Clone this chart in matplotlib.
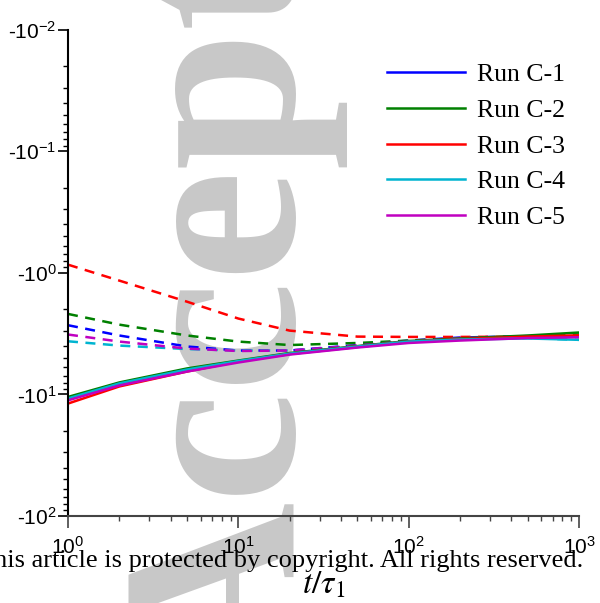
import math
import matplotlib
matplotlib.use('Agg')
import matplotlib.pyplot as plt
from matplotlib.ticker import FuncFormatter, LogLocator

plt.rcParams['font.family'] = ['Liberation Sans', 'DejaVu Sans']
plt.rcParams['axes.unicode_minus'] = False

# time t/tau_1
t = [1, 2, 5, 10, 20, 50, 100, 200, 500, 1000]

# solid curves
c1_solid = [-10.9, -8.30, -6.37, -5.37, -4.66, -4.08, -3.71, -3.54, -3.41, -3.33]
c2_solid = [-10.5, -7.98, -6.12, -5.27, -4.57, -4.01, -3.64, -3.47, -3.28, -3.10]
c3_solid = [-11.9, -8.61, -6.49, -5.37, -4.62, -4.04, -3.68, -3.51, -3.35, -3.27]
c4_solid = [-10.8, -8.13, -6.25, -5.32, -4.62, -4.04, -3.68, -3.54, -3.47, -3.56]
c5_solid = [-11.2, -8.45, -6.49, -5.47, -4.71, -4.12, -3.78, -3.61, -3.44, -3.39]

# dashed curves
c1_dash = [-2.70, -3.28, -4.04, -4.36, -4.36, -3.93, -3.61, -3.41, -3.32, -3.32]
c2_dash = [-2.18, -2.67, -3.28, -3.68, -3.93, -3.78, -3.61, -3.47, -3.35, -3.22]
c3_dash = [-0.858, -1.16, -1.73, -2.38, -2.99, -3.35, -3.37, -3.37, -3.35, -3.32]
c4_dash = [-3.66, -3.97, -4.24, -4.36, -4.36, -4.04, -3.68, -3.47, -3.44, -3.56]
c5_dash = [-3.22, -3.68, -4.20, -4.40, -4.36, -3.97, -3.64, -3.44, -3.35, -3.35]

labels = ['Run C-1', 'Run C-2', 'Run C-3', 'Run C-4', 'Run C-5']
colors = ['#0000ff', '#008000', '#ff0000', '#00b4d0', '#c000c0']
solids = [c1_solid, c2_solid, c3_solid, c4_solid, c5_solid]
dashes = [c1_dash, c2_dash, c3_dash, c4_dash, c5_dash]

fig = plt.figure(figsize=(6, 6.03), dpi=100)
ax = fig.add_axes([68/600, 1-516/603, (579-68)/600, (516-29.5)/603])
ax.patch.set_visible(False)

# watermark behind the axes
fig.text(292/600, 1-680/603, 'Accepted', rotation=90, rotation_mode='anchor',
         ha='left', va='baseline', fontsize=180, family='Liberation Serif',
         weight='bold', color='#c8c8c8', zorder=-5)

handles = []
for ys, c in zip(dashes, colors):
    ax.plot(t, [-v for v in ys], color=c, lw=1.8, dashes=(4, 3))
for ys, c, lab in zip(solids, colors, labels):
    h, = ax.plot(t, [-v for v in ys], color=c, lw=1.8, label=lab)
    handles.append(h)

ax.set_xscale('log')
ax.set_yscale('log')
ax.set_xlim(1, 1000)
ax.set_ylim(100, 0.01)

ax.yaxis.set_major_formatter(FuncFormatter(lambda v, p: r'-$\mathdefault{10^{%d}}$' % round(math.log10(v))))
ax.yaxis.set_minor_locator(LogLocator(subs=range(2, 10), numticks=20))

for s in ['top', 'right']:
    ax.spines[s].set_visible(False)
ax.spines['left'].set_linewidth(1.5)
ax.spines['bottom'].set_linewidth(1.5)
ax.spines['bottom'].set_color('#444444')

ax.tick_params(axis='y', which='major', length=7.2, width=1.2, labelsize=15, pad=1)
ax.tick_params(axis='y', which='minor', length=3.6, width=1.0)
ax.tick_params(axis='x', which='major', length=8.6, width=1.2, labelsize=15, pad=6, color='#444444')
ax.tick_params(axis='x', which='minor', length=3.6, width=1.0, color='#444444')

ax.legend(handles=handles, loc='upper left', frameon=False,
          bbox_to_anchor=(387/600, 1-63/603), bbox_transform=fig.transFigure,
          borderaxespad=0, borderpad=0, handlelength=3.03, handletextpad=0.47,
          labelspacing=0.5, prop={'family': 'Liberation Serif', 'size': 18.5})

fig.text(583/600, 1-567/603, 'This article is protected by copyright. All rights reserved.',
         ha='right', va='baseline', fontsize=19, family='Liberation Serif')
fig.text(323.5/600, 1-593/603, r'$t/\tau_1$', ha='center', va='baseline',
         fontsize=24, math_fontfamily='stix')
fig.text(323.5/600, 1+4/603, r'$t/\tau_1$', ha='center', va='baseline',
         fontsize=24, math_fontfamily='stix')

fig.savefig('out.png', dpi=100)
